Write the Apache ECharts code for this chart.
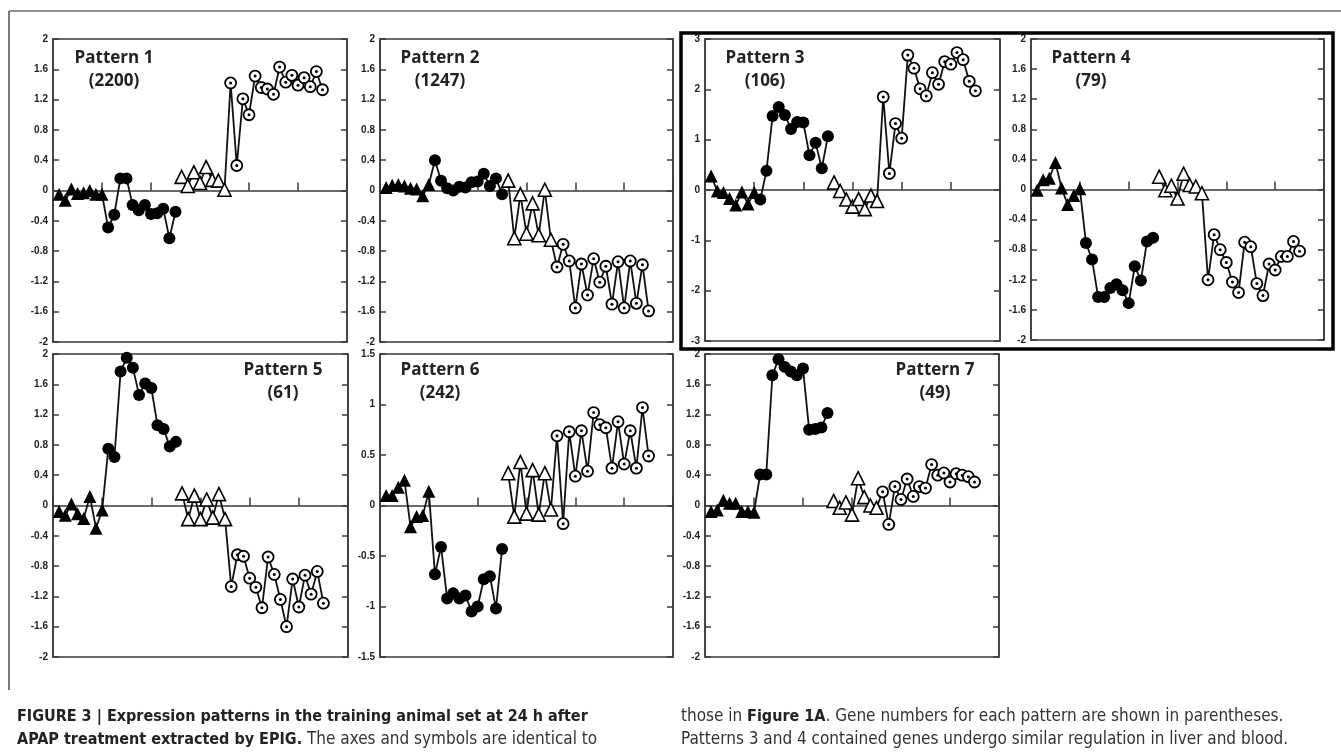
<!DOCTYPE html>
<html>
<head>
<meta charset="utf-8">
<script src="https://cdn.jsdelivr.net/npm/echarts@6/dist/echarts.min.js"></script>
<style>
  html, body { margin: 0; padding: 0; background: #fff; }
  #chart { width: 1341px; height: 756px; }
</style>
</head>
<body>
<div id="chart"></div>
<script>
// data: 4 groups per pattern
// filled triangles (1-8), filled circles (9-20), open triangles (21-28), open circles (29-44)
var patternNames = ["Pattern 1", "Pattern 2", "Pattern 3", "Pattern 4", "Pattern 5", "Pattern 6", "Pattern 7"];
var geneCounts = ["(2200)", "(1247)", "(106)", "(79)", "(61)", "(242)", "(49)"];

var p1FilledTri = [-0.05, -0.13, 0.02, -0.04, -0.03, 0.0, -0.05, -0.05];
var p1FilledCirc = [-0.49, -0.32, 0.16, 0.16, -0.19, -0.26, -0.19, -0.31, -0.30, -0.24, -0.63, -0.28];
var p1OpenTri = [0.18, 0.06, 0.24, 0.10, 0.31, 0.14, 0.13, 0.01];
var p1OpenCirc = [1.42, 0.33, 1.21, 1.00, 1.51, 1.36, 1.34, 1.27, 1.63, 1.43, 1.52, 1.39, 1.49, 1.37, 1.57, 1.33];

var p2FilledTri = [0.04, 0.07, 0.08, 0.06, 0.03, 0.02, -0.07, 0.08];
var p2FilledCirc = [0.40, 0.13, 0.03, 0.00, 0.05, 0.04, 0.11, 0.12, 0.22, 0.06, 0.16, -0.05];
var p2OpenTri = [0.13, -0.63, -0.05, -0.57, -0.17, -0.59, 0.01, -0.65];
var p2OpenCirc = [-1.01, -0.71, -0.93, -1.55, -0.97, -1.38, -0.90, -1.21, -1.00, -1.50, -0.94, -1.55, -0.93, -1.49, -0.98, -1.59];

var p3FilledTri = [0.28, -0.02, -0.05, -0.17, -0.30, -0.04, -0.28, -0.05];
var p3FilledCirc = [-0.19, 0.38, 1.47, 1.65, 1.49, 1.21, 1.35, 1.34, 0.69, 0.94, 0.43, 1.07];
var p3OpenTri = [0.15, -0.02, -0.19, -0.33, -0.18, -0.38, -0.11, -0.22];
var p3OpenCirc = [1.85, 0.33, 1.32, 1.03, 2.68, 2.42, 2.01, 1.87, 2.33, 2.10, 2.55, 2.50, 2.73, 2.59, 2.16, 1.97];

var p4FilledTri = [-0.01, 0.13, 0.15, 0.36, 0.02, -0.20, -0.08, 0.01];
var p4FilledCirc = [-0.71, -0.93, -1.43, -1.43, -1.31, -1.26, -1.34, -1.51, -1.02, -1.21, -0.69, -0.64];
var p4OpenTri = [0.17, -0.01, 0.05, -0.12, 0.21, 0.06, 0.04, -0.05];
var p4OpenCirc = [-1.20, -0.60, -0.80, -0.97, -1.23, -1.37, -0.70, -0.76, -1.25, -1.41, -0.99, -1.07, -0.89, -0.89, -0.69, -0.82];

var p5FilledTri = [-0.08, -0.13, 0.02, -0.11, -0.17, 0.12, -0.30, -0.06];
var p5FilledCirc = [0.75, 0.64, 1.77, 1.95, 1.82, 1.46, 1.61, 1.55, 1.06, 1.01, 0.78, 0.84];
var p5OpenTri = [0.16, -0.18, 0.13, -0.18, 0.08, -0.16, 0.15, -0.18];
var p5OpenCirc = [-1.07, -0.65, -0.67, -0.96, -1.08, -1.35, -0.68, -0.91, -1.24, -1.60, -0.97, -1.34, -0.92, -1.17, -0.87, -1.29];

var p6FilledTri = [0.10, 0.10, 0.18, 0.25, -0.21, -0.11, -0.10, 0.14];
var p6FilledCirc = [-0.68, -0.41, -0.92, -0.87, -0.92, -0.89, -1.05, -1.00, -0.73, -0.70, -1.02, -0.43];
var p6OpenTri = [0.32, -0.11, 0.43, -0.08, 0.35, -0.09, 0.32, -0.04];
var p6OpenCirc = [0.69, -0.18, 0.73, 0.29, 0.74, 0.34, 0.92, 0.80, 0.77, 0.37, 0.83, 0.41, 0.74, 0.37, 0.97, 0.49];

var p7FilledTri = [-0.08, -0.06, 0.07, 0.03, 0.03, -0.08, -0.08, -0.09];
var p7FilledCirc = [0.41, 0.41, 1.72, 1.93, 1.83, 1.77, 1.72, 1.81, 1.00, 1.01, 1.03, 1.22];
var p7OpenTri = [0.06, -0.03, 0.04, -0.12, 0.36, 0.11, 0.00, -0.03];
var p7OpenCirc = [0.18, -0.25, 0.25, 0.08, 0.35, 0.12, 0.25, 0.23, 0.54, 0.40, 0.43, 0.31, 0.42, 0.40, 0.38, 0.31];

// y axis ranges per pattern: [min, max, interval]
var yRanges = [[-2, 2, 0.4], [-2, 2, 0.4], [-3, 3, 1], [-2, 2, 0.4], [-2, 2, 0.4], [-1.5, 1.5, 0.5], [-2, 2, 0.4]];

var groups = [
  [p1FilledTri, p1FilledCirc, p1OpenTri, p1OpenCirc],
  [p2FilledTri, p2FilledCirc, p2OpenTri, p2OpenCirc],
  [p3FilledTri, p3FilledCirc, p3OpenTri, p3OpenCirc],
  [p4FilledTri, p4FilledCirc, p4OpenTri, p4OpenCirc],
  [p5FilledTri, p5FilledCirc, p5OpenTri, p5OpenCirc],
  [p6FilledTri, p6FilledCirc, p6OpenTri, p6OpenCirc],
  [p7FilledTri, p7FilledCirc, p7OpenTri, p7OpenCirc]
];

// layout (px): plot boxes and title anchors
var boxes = [
  { left: 53, top: 39, width: 294, height: 303 },
  { left: 380, top: 39, width: 293, height: 303 },
  { left: 705, top: 39, width: 295, height: 302 },
  { left: 1031, top: 39, width: 293, height: 301 },
  { left: 53, top: 354, width: 295, height: 303 },
  { left: 380, top: 354, width: 293, height: 303 },
  { left: 705, top: 354, width: 294, height: 303 }
];
var titlePos = [[114, 57], [440, 57], [765, 57], [1091, 57], [283, 369], [440, 369], [935, 369]];

var FRAME = "#3a3a3a";

// x position of each point starts at 1, groups follow one another
function toPoints(values, start) {
  return values.map(function (v, i) { return [start + i, v]; });
}

var grids = [], xAxes = [], yAxes = [], series = [], graphics = [];

groups.forEach(function (g, k) {
  var b = boxes[k];
  grids.push({
    left: b.left, top: b.top, width: b.width, height: b.height,
    show: true, borderColor: FRAME, borderWidth: 1.5, backgroundColor: "#fff"
  });
  xAxes.push({
    type: "value", gridIndex: k, min: 0, max: 48, interval: 8,
    axisLine: { lineStyle: { color: FRAME, width: 1.5 } },
    axisTick: { inside: true, length: 8, lineStyle: { color: FRAME, width: 1.5 } },
    axisLabel: { show: false },
    splitLine: { show: false }
  });
  var r = yRanges[k];
  var yBase = {
    type: "value", gridIndex: k, min: r[0], max: r[1], interval: r[2],
    axisLine: { show: true, lineStyle: { color: FRAME, width: 1.5 } },
    axisTick: { inside: true, length: 6, lineStyle: { color: FRAME, width: 1.5 } },
    splitLine: { show: false }
  };
  yAxes.push(Object.assign({}, yBase, {
    position: "left",
    axisLabel: {
      margin: 5, color: "#222", fontSize: 10, fontWeight: "bold", fontFamily: "Liberation Sans",
      formatter: function (v) { return String(+v.toFixed(1)); }
    }
  }));
  yAxes.push(Object.assign({}, yBase, { position: "right", axisLabel: { show: false } }));

  var filledTri = g[0], filledCirc = g[1], openTri = g[2], openCirc = g[3];
  var s1 = 1, s2 = s1 + filledTri.length, s3 = s2 + filledCirc.length, s4 = s3 + openTri.length;
  var yi = k * 2;

  // connecting lines: filled set and open set are drawn as two separate traces
  series.push({
    type: "line", xAxisIndex: k, yAxisIndex: yi, showSymbol: false, z: 2,
    lineStyle: { color: "#111", width: 1.8 },
    data: toPoints(filledTri.concat(filledCirc), s1)
  });
  series.push({
    type: "line", xAxisIndex: k, yAxisIndex: yi, showSymbol: false, z: 2,
    lineStyle: { color: "#111", width: 1.8 },
    data: toPoints(openTri.concat(openCirc), s3)
  });
  series.push({
    type: "scatter", xAxisIndex: k, yAxisIndex: yi, symbol: "triangle", symbolSize: 13, z: 3,
    itemStyle: { color: "#000", opacity: 1 },
    data: toPoints(filledTri, s1)
  });
  series.push({
    type: "scatter", xAxisIndex: k, yAxisIndex: yi, symbol: "circle", symbolSize: 12, z: 3,
    itemStyle: { color: "#000", opacity: 1 },
    data: toPoints(filledCirc, s2)
  });
  series.push({
    type: "scatter", xAxisIndex: k, yAxisIndex: yi, symbol: "triangle", symbolSize: 13, z: 3,
    itemStyle: { color: "#fff", borderColor: "#000", borderWidth: 1.6, opacity: 1 },
    data: toPoints(openTri, s3)
  });
  series.push({
    type: "scatter", xAxisIndex: k, yAxisIndex: yi, symbol: "circle", symbolSize: 11, z: 3,
    itemStyle: { color: "#fff", borderColor: "#000", borderWidth: 1.8, opacity: 1 },
    data: toPoints(openCirc, s4)
  });
  // dot in the middle of the open circles
  series.push({
    type: "scatter", xAxisIndex: k, yAxisIndex: yi, symbol: "circle", symbolSize: 3, z: 4,
    itemStyle: { color: "#000", opacity: 1 },
    data: toPoints(openCirc, s4)
  });

  var tp = titlePos[k];
  graphics.push({
    type: "text", z: 10,
    style: {
      text: patternNames[k] + "\n" + geneCounts[k], x: tp[0], y: tp[1] - 10,
      align: "center", verticalAlign: "top", lineHeight: 23,
      font: "bold 17px 'Open Sans'", fill: "#222"
    }
  });
});

// frame lines and the thick box round patterns 3 and 4
graphics.push({ type: "line", shape: { x1: 9, y1: 11, x2: 1341, y2: 11 }, style: { stroke: "#222", lineWidth: 1.2 } });
graphics.push({ type: "line", shape: { x1: 9, y1: 11, x2: 9, y2: 690 }, style: { stroke: "#222", lineWidth: 1.2 } });
graphics.push({
  type: "rect", z: 5, shape: { x: 681, y: 33, width: 652, height: 316 },
  style: { fill: null, stroke: "#000", lineWidth: 3.5 }
});

// caption
var capFont = "'Liberation Sans Narrow', 'DejaVu Sans Condensed', sans-serif";
var capRich = {
  b: { fontFamily: capFont, fontSize: 16, fontWeight: "bold", fill: "#222" },
  n: { fontFamily: capFont, fontSize: 17, fill: "#333" }
};
var captionLines = [
  [17, 717, "{b|FIGURE 3 | Expression patterns in the training animal set at 24 h after}"],
  [17, 740, "{b|APAP treatment extracted by EPIG.}{n| The axes and symbols are identical to}"],
  [681, 717, "{n|those in }{b|Figure 1A}{n|. Gene numbers for each pattern are shown in parentheses.}"],
  [681, 740, "{n|Patterns 3 and 4 contained genes undergo similar regulation in liver and blood.}"]
];
captionLines.forEach(function (c) {
  graphics.push({
    type: "text",
    style: { text: c[2], x: c[0], y: c[1], verticalAlign: "middle", rich: capRich }
  });
});

var chart = echarts.init(document.getElementById("chart"));
chart.setOption({
  animation: false,
  backgroundColor: "#fff",
  grid: grids,
  xAxis: xAxes,
  yAxis: yAxes,
  series: series,
  graphic: graphics
});
</script>
</body>
</html>
